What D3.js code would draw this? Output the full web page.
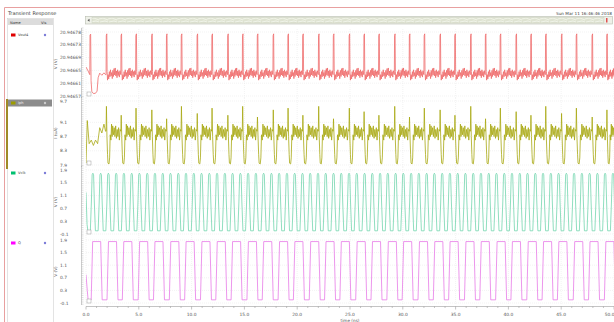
<!DOCTYPE html>
<html>
<head>
<meta charset="utf-8">
<script src="https://cdn.jsdelivr.net/npm/d3@7"></script>
<style>
  body { margin: 0; background: #fff; }
  svg { display: block; font-family: "DejaVu Sans", sans-serif; }
</style>
</head>
<body>
<svg id="chart" width="614" height="322"></svg>
<script>
// ---- data ----
const timeTicks = [0, 5, 10, 15, 20, 25, 30, 35, 40, 45, 50];
const signalNames = ['Vout4', 'Iph', 'Vclk', 'Q'];
const yTitles = ['V (V)', 'I (uA)', 'V (V)', 'V (V)'];

const vout4Labels = ['20.94678', '20.94673', '20.94669', '20.94665', '20.94661', '20.94657'];
const vout4Base = 20.94657;            // bottom of the strip, values below are uV above it
const iphTicks = [9.7, 9.1, 8.7, 8.3, 7.9];
const vclkTicks = [1.9, 1.5, 1.1, 0.7, 0.3, -0.1];
const qTicks = [1.9, 1.5, 1.1, 0.7, 0.3, -0.1];

// Vout4 spikes (ns)
const vout4Spikes = [0.4, 1.9, 3.3, 4.7, 6.2, 7.6, 9.0, 10.5, 11.9, 13.4, 14.8, 16.2, 17.7, 19.1,
  20.5, 22.0, 23.4, 24.9, 26.3, 27.7, 29.2, 30.6, 32.0, 33.5, 34.9, 36.4, 37.8, 39.2, 40.7,
  42.1, 43.5, 45.0, 46.4, 47.9, 49.3];
// start of trace before the regular cycles: [ns, uV]
const vout4Head = [[0, 9.5], [0.2, 8.2], [0.36, 7], [0.38, 20], [0.44, 20.3], [0.48, 5], [0.55, 1.5],
  [0.7, 0.8], [0.9, 0.9], [1.05, 1.6], [1.15, 6], [1.3, 7.5], [1.5, 6.8], [1.7, 7.6], [1.85, 7]];
// one cycle between two spikes: [fraction of cycle, uV]
const vout4Cycle = [[0, 7], [0.015, 19.8], [0.05, 20.4], [0.07, 8], [0.1, 5.2], [0.14, 7], [0.18, 5.6],
  [0.22, 8], [0.26, 6.3], [0.3, 8.6], [0.34, 6.6], [0.38, 7.7], [0.42, 5.7], [0.46, 8.4], [0.5, 6.4],
  [0.54, 9.0], [0.58, 6.9], [0.62, 9.2], [0.66, 6.6], [0.7, 8.2], [0.74, 6.0], [0.78, 8.6], [0.82, 6.7],
  [0.86, 8.0], [0.9, 6.2], [0.94, 8.3], [0.98, 7.2]];

// Iph
const iphHead = [[0, 7.95], [0.12, 9.15], [0.3, 8.5], [0.5, 8.6], [0.7, 8.45], [0.9, 8.6], [1.1, 8.5],
  [1.3, 8.95], [1.5, 8.8], [1.7, 9.05], [1.85, 8.85]];
// one cycle: [fraction of cycle, uA]; the first spike height comes from iphPeaks
const iphCycle = [[0, 8.85], [0.06, 8.7], [0.1, 8.2], [0.13, 7.95], [0.2, 7.93], [0.24, 8.1], [0.28, 8.75],
  [0.33, 8.6], [0.37, 9.05], [0.41, 8.7], [0.45, 9.0], [0.5, 8.75], [0.55, 8.95], [0.6, 8.7], [0.65, 9.0],
  [0.7, 8.65], [0.75, 8.9], [0.8, 8.7], [0.85, 8.95], [0.9, 8.6], [0.95, 8.9]];
const iphPeaks = [9.2, 9.55, 9.3, 9.5, 9.45, 9.2, 9.55, 9.35, 9.5, 9.3, 9.55, 9.25, 9.45, 9.5, 9.3,
  9.55, 9.2, 9.5, 9.4, 9.3, 9.55, 9.25, 9.5, 9.45, 9.3, 9.55, 9.2, 9.5, 9.4, 9.3, 9.55, 9.35, 9.5,
  9.25, 9.45];

// Vclk rising edges (ns)
const vclkRise = [0.45, 1.19, 1.92, 2.66, 3.39, 4.13, 4.86, 5.60, 6.33, 7.07, 7.80, 8.54, 9.27, 10.01,
  10.74, 11.48, 12.21, 12.95, 13.68, 14.42, 15.15, 15.89, 16.62, 17.36, 18.09, 18.83, 19.56, 20.30,
  21.03, 21.77, 22.50, 23.24, 23.97, 24.71, 25.44, 26.18, 26.91, 27.65, 28.38, 29.12, 29.85, 30.59,
  31.32, 32.06, 32.79, 33.53, 34.26, 35.00, 35.73, 36.47, 37.20, 37.94, 38.67, 39.41, 40.14, 40.88,
  41.61, 42.35, 43.08, 43.82, 44.55, 45.29, 46.02, 46.76, 47.49, 48.23, 48.96, 49.70];
const vclkHead = [[0, 1.2], [0.1, 0.2], [0.18, 0.0]];
const vclkLow = 0.0, vclkHigh = 1.8;

// Q rising / falling edges (ns)
const qRise = [0.55, 2.05, 3.5, 5.0, 6.45, 7.95, 9.4, 10.9, 12.35, 13.8, 15.3, 16.75, 18.25, 19.7, 21.2,
  22.65, 24.1, 25.6, 27.05, 28.55, 30.0, 31.5, 32.95, 34.4, 35.9, 37.35, 38.85, 40.3, 41.8, 43.25,
  44.7, 46.2, 47.65, 49.15];
const qFall = [1.45, 2.95, 4.4, 5.9, 7.35, 8.85, 10.3, 11.8, 13.25, 14.7, 16.2, 17.65, 19.15, 20.6, 22.1,
  23.55, 25.0, 26.5, 27.95, 29.45, 30.9, 32.4, 33.85, 35.3, 36.8, 38.25, 39.75, 41.2, 42.7, 44.15,
  45.6, 47.1, 48.55, 50.05];
const qHead = [[0, 0.8], [0.12, 0.3], [0.2, 0.0]];
const qLow = 0.0, qHigh = 1.85;

// ---- build traces ----
function cycles(head, starts, shape, end, peaks) {
  const pts = head.slice();
  starts.forEach((s, i) => {
    if (i === 0 && head.length) return;
    const next = i + 1 < starts.length ? starts[i + 1] : end;
    const per = next - s;
    shape.forEach(([f, v], k) => {
      if (s + f * per > end) return;
      pts.push([s + f * per, v]);
      if (peaks && k === 0) pts.push([s + 0.025 * per, peaks[i]]);
    });
  });
  return pts;
}
const vout4Pts = cycles(vout4Head, vout4Spikes, vout4Cycle, 50.5)
  .map(([t, u]) => [t, vout4Base + u * 1e-6]);
const iphPts = cycles(iphHead, vout4Spikes, iphCycle, 50.5, iphPeaks);

const vclkPts = vclkHead.slice();
vclkRise.forEach(r => {
  vclkPts.push([r - 0.04, vclkLow], [r + 0.06, 0.9], [r + 0.13, vclkHigh - 0.05], [r + 0.2, vclkHigh],
    [r + 0.27, vclkHigh - 0.05], [r + 0.34, 0.9], [r + 0.44, vclkLow]);
});
const qPts = qHead.slice();
qRise.forEach((r, i) => {
  qPts.push([r - 0.06, qLow], [r + 0.08, qHigh], [qFall[i] - 0.06, qHigh], [qFall[i] + 0.08, qLow]);
});

// ---- layout ----
const svg = d3.select('#chart');
const x = d3.scaleLinear().domain([0, 50]).range([86, 614]);

svg.append('rect').attr('width', 614).attr('height', 322).attr('fill', '#fff');

// window frame
svg.append('line').attr('x1', 4.5).attr('x2', 614).attr('y1', 7.5).attr('y2', 7.5).attr('stroke', '#e8a0a0');
svg.append('line').attr('x1', 4.5).attr('x2', 4.5).attr('y1', 7.5).attr('y2', 322).attr('stroke', '#e8a0a0');
svg.append('text').attr('x', 8).attr('y', 15).attr('font-size', 5).attr('fill', '#444').text('Transient Response');
svg.append('text').attr('x', 612).attr('y', 15).attr('font-size', 4.2).attr('fill', '#444')
  .attr('text-anchor', 'end').text('Sun Mar 11 16:46:46 2018');

// legend panel
svg.append('rect').attr('x', 7.5).attr('y', 18.5).attr('width', 46).attr('height', 310)
  .attr('fill', '#fff').attr('stroke', '#d0d0d0').attr('stroke-width', 0.6);
svg.append('rect').attr('x', 8).attr('y', 19).attr('width', 45).attr('height', 6).attr('fill', '#dcdcdc');
svg.append('text').attr('x', 10).attr('y', 23.6).attr('font-size', 3.6).attr('fill', '#333').text('Name');
svg.append('text').attr('x', 41).attr('y', 23.6).attr('font-size', 3.6).attr('fill', '#333').text('Vis');
svg.append('rect').attr('x', 6).attr('y', 99).attr('width', 2).attr('height', 70).attr('fill', '#a08a28');

const legendColors = ['#e00000', '#9c9c00', '#00c070', '#ff00ff'];
const lineColors = ['#ef6b6b', '#a8a812', '#74d6ae', '#e77be7'];
const legendY = [35, 103, 173, 243];
signalNames.forEach((n, i) => {
  const g = svg.append('g');
  if (i === 1) g.append('rect').attr('x', 8).attr('y', legendY[i] - 3.5).attr('width', 44).attr('height', 7).attr('fill', '#8c8c8c');
  g.append('rect').attr('x', 11).attr('y', legendY[i] - 1.5).attr('width', 4.5).attr('height', 3).attr('fill', legendColors[i]);
  g.append('text').attr('x', 18).attr('y', legendY[i] + 1.3).attr('font-size', 3.6)
    .attr('fill', i === 1 ? '#eee' : '#444').text(n);
  g.append('circle').attr('cx', 45).attr('cy', legendY[i]).attr('r', 1.2)
    .attr('fill', i === 1 ? '#ccc' : '#7b7bd8');
});

// scrollbar
const pat = svg.append('defs').append('pattern').attr('id', 'tex').attr('patternUnits', 'userSpaceOnUse')
  .attr('width', 9).attr('height', 8);
pat.append('rect').attr('width', 9).attr('height', 8).attr('fill', '#dfe3d2');
pat.append('path').attr('d', 'M0 3 L4 2 L9 4 M1 6 L6 5 L9 6').attr('stroke', '#f4f6ee').attr('stroke-width', 0.8).attr('fill', 'none');
svg.append('rect').attr('x', 85.5).attr('y', 16.5).attr('width', 527).attr('height', 7.5)
  .attr('fill', '#eef0e8').attr('stroke', '#b8bcb0').attr('stroke-width', 0.6);
svg.append('rect').attr('x', 92).attr('y', 17.5).attr('width', 512).attr('height', 5.5).attr('fill', 'url(#tex)')
  .attr('stroke', '#c6cbb8').attr('stroke-width', 0.4);
svg.append('path').attr('d', 'M87.5 20.2 L89.5 18.7 L89.5 21.7 Z').attr('fill', '#555');
svg.append('rect').attr('x', 606).attr('y', 18).attr('width', 1.5).attr('height', 4.5).attr('fill', '#e05050');

// strips
const strips = [
  { top: 32, bot: 96, dom: [vout4Base, vout4Base + 21e-6], pts: vout4Pts,
    ticks: vout4Labels.map((l, i) => [vout4Base + (5 - i) * 4.2e-6, l]) },
  { top: 101, bot: 165, dom: [7.9, 9.7], pts: iphPts, ticks: iphTicks.map(v => [v, v.toFixed(1)]) },
  { top: 170, bot: 234, dom: [-0.1, 1.9], pts: vclkPts, ticks: vclkTicks.map(v => [v, v.toFixed(1)]) },
  { top: 240, bot: 303, dom: [-0.1, 1.9], pts: qPts, ticks: qTicks.map(v => [v, v.toFixed(1)]) }
];

const defs = svg.select('defs');
defs.append('clipPath').attr('id', 'plotclip').append('rect')
  .attr('x', 86).attr('y', 26).attr('width', 528).attr('height', 280);

strips.forEach((s, i) => {
  const y = d3.scaleLinear().domain(s.dom).range([s.bot, s.top]);
  const g = svg.append('g');

  // grid
  g.selectAll('.hg').data(s.ticks).enter().append('line')
    .attr('x1', 86).attr('x2', 614).attr('y1', d => y(d[0])).attr('y2', d => y(d[0]))
    .attr('stroke', '#e6e6e6').attr('stroke-width', 0.5).attr('stroke-dasharray', '1,1');
  g.selectAll('.vg').data(timeTicks).enter().append('line')
    .attr('x1', d => x(d)).attr('x2', d => x(d)).attr('y1', s.top - 3).attr('y2', s.bot + 2)
    .attr('stroke', '#e6e6e6').attr('stroke-width', 0.5).attr('stroke-dasharray', '1,1');

  // ruler
  g.append('line').attr('x1', 81.5).attr('x2', 81.5).attr('y1', s.top - 4).attr('y2', s.bot + 2)
    .attr('stroke', '#999').attr('stroke-width', 0.5);
  const minor = d3.range(s.top - 4, s.bot + 2, 2.2);
  g.selectAll('.mt').data(minor).enter().append('line')
    .attr('x1', 81.5).attr('x2', 83.5).attr('y1', d => d).attr('y2', d => d)
    .attr('stroke', '#aaa').attr('stroke-width', 0.4);

  // tick labels
  g.selectAll('.tl').data(s.ticks).enter().append('text')
    .attr('x', 60).attr('y', d => y(d[0]) + 1.6).attr('font-size', 4.4).attr('fill', '#555')
    .text(d => d[1]);

  // title
  const cy = (s.top + s.bot) / 2;
  g.append('text').attr('transform', `translate(57,${cy}) rotate(-90)`).attr('text-anchor', 'middle')
    .attr('font-size', 4.2).attr('fill', '#555').text(yTitles[i]);

  // trace
  g.append('path').datum(s.pts).attr('clip-path', 'url(#plotclip)')
    .attr('d', d3.line().x(d => x(d[0])).y(d => y(d[1])))
    .attr('fill', 'none').attr('stroke', lineColors[i]).attr('stroke-width', 0.8);

  // strip marker
  g.append('rect').attr('x', 87).attr('y', s.bot - 4).attr('width', 4).attr('height', 4)
    .attr('fill', '#fff').attr('stroke', '#888').attr('stroke-width', 0.4);
});

// time axis
const ax = svg.append('g');
ax.append('line').attr('x1', 86).attr('x2', 614).attr('y1', 306.5).attr('y2', 306.5).attr('stroke', '#888').attr('stroke-width', 0.5);
ax.selectAll('.mn').data(d3.range(0, 51, 1)).enter().append('line')
  .attr('x1', d => x(d)).attr('x2', d => x(d)).attr('y1', 306.5).attr('y2', d => d % 5 === 0 ? 309.5 : 308)
  .attr('stroke', '#888').attr('stroke-width', 0.5);
ax.selectAll('.tl').data(timeTicks).enter().append('text')
  .attr('x', d => x(d)).attr('y', 316).attr('text-anchor', d => d === 50 ? 'end' : 'middle')
  .attr('dx', d => d === 50 ? 0.5 : 0).attr('font-size', 4.4).attr('fill', '#555')
  .text(d => d.toFixed(1));
ax.append('text').attr('x', 350).attr('y', 321.5).attr('text-anchor', 'middle').attr('font-size', 4.2)
  .attr('fill', '#555').text('time (ns)');
</script>
</body>
</html>
